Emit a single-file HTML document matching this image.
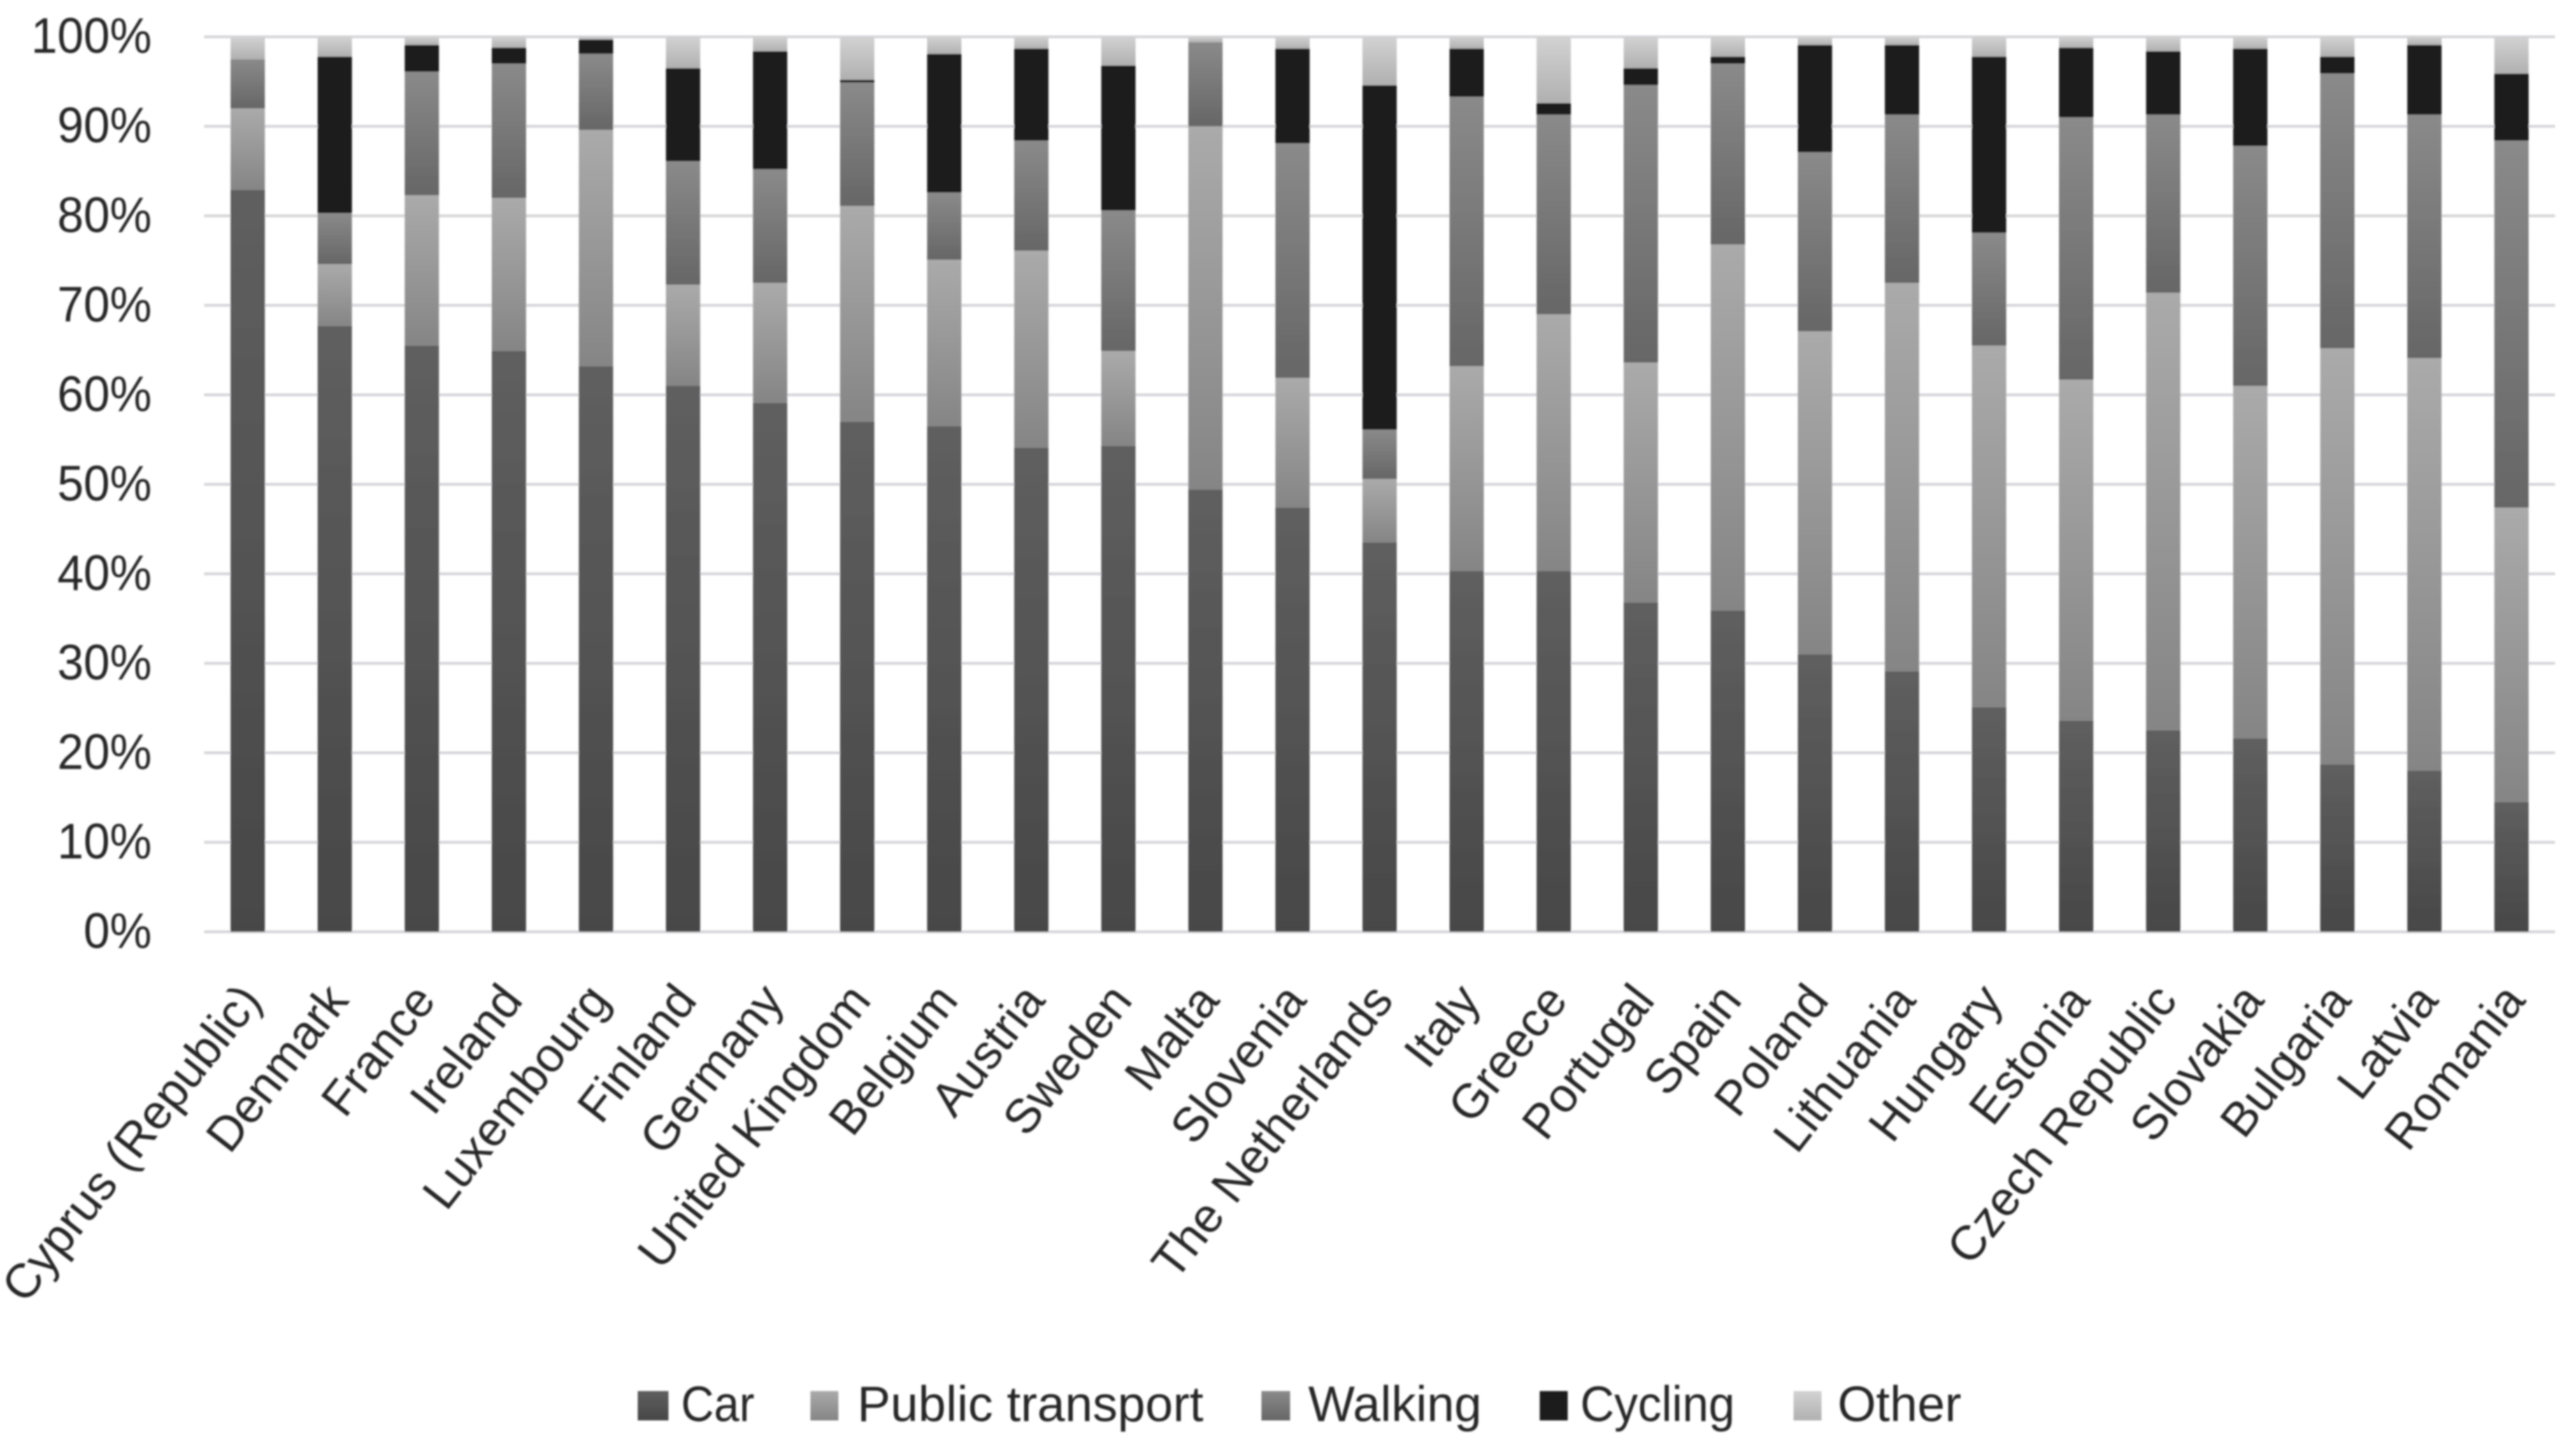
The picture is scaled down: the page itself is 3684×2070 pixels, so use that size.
<!DOCTYPE html>
<html lang="en">
<head>
<meta charset="utf-8">
<title>Modal split by country</title>
<style>
html,body{margin:0;padding:0;background:#fff;width:3684px;height:2070px;overflow:hidden}
svg{display:block}
text{font-family:"Liberation Sans",sans-serif;fill:#262626}
</style>
</head>
<body>
<svg id="chart" xmlns="http://www.w3.org/2000/svg" width="3684" height="2070" viewBox="0 0 3684 2070">
<defs>
<linearGradient id="grad-car" x1="0" y1="0" x2="0" y2="1"><stop offset="0" stop-color="#5f5f5f"/><stop offset="1" stop-color="#474747"/></linearGradient>
<linearGradient id="grad-public" x1="0" y1="0" x2="0" y2="1"><stop offset="0" stop-color="#aaaaaa"/><stop offset="1" stop-color="#858585"/></linearGradient>
<linearGradient id="grad-walking" x1="0" y1="0" x2="0" y2="1"><stop offset="0" stop-color="#8a8a8a"/><stop offset="1" stop-color="#666666"/></linearGradient>
<linearGradient id="grad-cycling" x1="0" y1="0" x2="0" y2="1"><stop offset="0" stop-color="#1c1c1c"/><stop offset="1" stop-color="#1a1a1a"/></linearGradient>
<linearGradient id="grad-other" x1="0" y1="0" x2="0" y2="1"><stop offset="0" stop-color="#d2d2d2"/><stop offset="1" stop-color="#b0b0b0"/></linearGradient>
<filter id="soft" filterUnits="userSpaceOnUse" x="0" y="0" width="3684" height="2070"><feGaussianBlur stdDeviation="1.3"/></filter>
</defs>
<rect x="0" y="0" width="3684" height="2070" fill="#ffffff"/>
<g id="root" filter="url(#soft)">
<g id="gridlines"></g>
<g id="y-axis"></g>
<g id="bars"></g>
<g id="x-axis"></g>
<g>
<g>
<rect x="912" y="1990" width="44" height="42" fill="url(#grad-car)"/>
<text x="974" y="2033" font-size="71" textLength="105" lengthAdjust="spacingAndGlyphs">Car</text>
</g>
<g>
<rect x="1159" y="1990" width="40" height="42" fill="url(#grad-public)"/>
<text x="1226" y="2033" font-size="71" textLength="495" lengthAdjust="spacingAndGlyphs">Public transport</text>
</g>
<g>
<rect x="1804" y="1990" width="41" height="42" fill="url(#grad-walking)"/>
<text x="1871" y="2033" font-size="71" textLength="248" lengthAdjust="spacingAndGlyphs">Walking</text>
</g>
<g>
<rect x="2202" y="1990" width="40" height="42" fill="url(#grad-cycling)"/>
<text x="2260" y="2033" font-size="71" textLength="221" lengthAdjust="spacingAndGlyphs">Cycling</text>
</g>
<g>
<rect x="2565" y="1990" width="40" height="42" fill="url(#grad-other)"/>
<text x="2628" y="2033" font-size="71" textLength="177" lengthAdjust="spacingAndGlyphs">Other</text>
</g>
</g>
</g>
</svg>
<script>
var countries = ["Cyprus (Republic)","Denmark","France","Ireland","Luxembourg","Finland","Germany","United Kingdom","Belgium","Austria","Sweden","Malta","Slovenia","The Netherlands","Italy","Greece","Portugal","Spain","Poland","Lithuania","Hungary","Estonia","Czech Republic","Slovakia","Bulgaria","Latvia","Romania"];
var yTicks = [0,10,20,30,40,50,60,70,80,90,100];
var car = [82.9,67.7,65.5,64.9,63.2,61.0,59.1,57.0,56.5,54.1,54.3,49.4,47.4,43.5,40.3,40.3,36.8,35.9,31.0,29.1,25.1,23.6,22.5,21.6,18.7,18.0,14.5];
var publicTransport = [9.1,6.9,16.8,17.1,26.4,11.3,13.4,24.1,18.6,22.0,10.6,40.6,14.5,7.1,22.9,28.7,26.8,40.9,36.1,43.4,40.4,38.1,48.9,39.4,46.5,46.1,32.9];
var walking = [5.5,5.7,13.8,15.0,8.5,13.8,12.7,13.8,7.5,12.3,15.7,9.4,26.2,5.5,30.1,22.3,31.0,20.2,20.0,18.8,12.6,29.3,19.9,26.8,30.7,27.2,41.0];
var cycling = [0,17.5,3.0,1.8,1.6,10.4,13.2,0.3,15.5,10.3,16.2,0,10.6,38.5,5.4,1.3,1.9,0.8,12.0,7.8,19.7,7.8,7.1,10.9,1.9,7.8,7.5];
var other = [2.5,2.2,0.9,1.2,0.3,3.5,1.6,4.8,1.9,1.3,3.2,0.6,1.3,5.4,1.3,7.4,3.5,2.2,0.9,0.9,2.2,1.2,1.6,1.3,2.2,0.9,4.1];

var NS = "http://www.w3.org/2000/svg";
var plotLeft = 292, plotRight = 3654, plotTop = 52.7, plotBottom = 1333;
var barWidth = 49;

function yScale(v) {
  return plotBottom - (plotBottom - plotTop) * v / 100;
}
function xCenter(i) {
  return plotLeft + (plotRight - plotLeft) * (i + 0.5) / countries.length;
}
function slug(s) {
  return s.toLowerCase().replace(/[^a-z0-9]+/g, "-").replace(/^-|-$/g, "");
}

var gridG = document.getElementById("gridlines");
var yG = document.getElementById("y-axis");
yTicks.forEach(function (t) {
  var line = document.createElementNS(NS, "rect");
  line.setAttribute("x", plotLeft);
  line.setAttribute("y", yScale(t) - 2);
  line.setAttribute("width", plotRight - plotLeft);
  line.setAttribute("height", 4);
  line.setAttribute("fill", "#d6d6da");
  
  
  gridG.appendChild(line);

  var label = document.createElementNS(NS, "text");
  label.setAttribute("transform", "translate(217," + (yScale(t) + 23) + ") scale(0.95,1)");
  label.setAttribute("text-anchor", "end");
  label.setAttribute("font-size", "71");
  label.textContent = t + "%";
  
  
  yG.appendChild(label);
});

var barsG = document.getElementById("bars");
var seriesList = [
  { key: "car", values: car, fill: "url(#grad-car)" },
  { key: "public-transport", values: publicTransport, fill: "url(#grad-public)" },
  { key: "walking", values: walking, fill: "url(#grad-walking)" },
  { key: "cycling", values: cycling, fill: "url(#grad-cycling)" },
  { key: "other", values: other, fill: "url(#grad-other)" }
];

countries.forEach(function (name, i) {
  var cum = 0;
  seriesList.forEach(function (s) {
    var v = s.values[i];
    var yTop = yScale(cum + v);
    var yBot = yScale(cum);
    cum += v;
    if (v <= 0) return;
    var r = document.createElementNS(NS, "rect");
    r.setAttribute("x", xCenter(i) - barWidth / 2);
    r.setAttribute("y", yTop);
    r.setAttribute("width", barWidth);
    r.setAttribute("height", yBot - yTop);
    r.setAttribute("fill", s.fill);
    
    
    barsG.appendChild(r);
  });
});

var xG = document.getElementById("x-axis");
countries.forEach(function (name, i) {
  var t = document.createElementNS(NS, "text");
  t.setAttribute("transform", "translate(" + (xCenter(i) + 22) + ",1432) rotate(-52)");
  t.setAttribute("text-anchor", "end");
  t.setAttribute("font-size", "69");
  t.textContent = name;
  
  
  xG.appendChild(t);
});
</script>
</body>
</html>
